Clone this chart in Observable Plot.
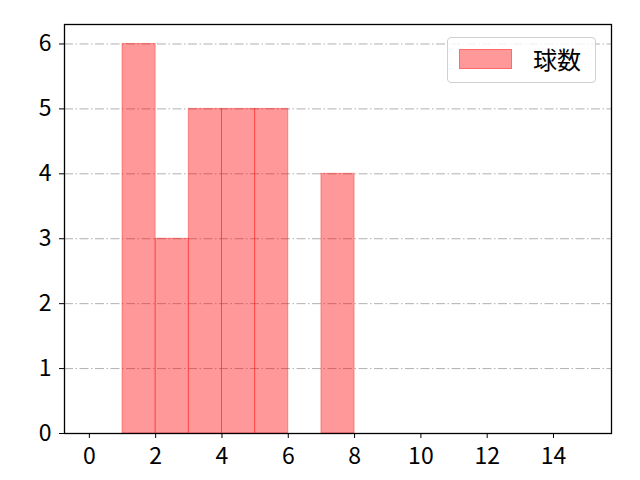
<!DOCTYPE html>
<html><head><meta charset="utf-8">
<script src="https://cdn.jsdelivr.net/npm/d3@7"></script>
<script src="https://cdn.jsdelivr.net/npm/@observablehq/plot@0.6"></script>
<style>
body{margin:0;background:#fff;}
#wrap{position:relative;width:640px;height:480px;font-family:"Noto Sans CJK JP","DejaVu Sans",sans-serif;}
#legend{position:absolute;left:447px;top:37px;width:149px;height:46px;border:1px solid #d0d0d0;border-radius:4px;background:rgba(255,255,255,0.8);box-sizing:border-box;}
#legend .sw{position:absolute;left:11px;top:11px;width:53px;height:20px;background:rgba(255,0,0,0.4);border:1px solid rgba(255,0,0,0.3);box-sizing:border-box;}
#legend .lb{position:absolute;left:85px;top:5px;font-size:24px;line-height:32px;color:#000;}
</style></head>
<body><div id="wrap"><div id="legend"><div class="sw"></div><div class="lb">球数</div></div></div>
<script>
const binStart = [1, 2, 3, 4, 5, 7];
const binEnd = [2, 3, 4, 5, 6, 8];
const counts = [6, 3, 5, 5, 5, 4];
const xTicks = [0, 2, 4, 6, 8, 10, 12, 14];
const yTicks = [0, 1, 2, 3, 4, 5, 6];
const seriesName = "球数";

const data = binStart.map((s, i) => ({x1: s, x2: binEnd[i], y: counts[i]}));

const chart = Plot.plot({
  width: 640, height: 480,
  marginLeft: 64, marginRight: 29, marginTop: 24, marginBottom: 47,
  style: {fontFamily: '"Noto Sans CJK JP","DejaVu Sans",sans-serif', fontSize: "23px", background: "#fff", color: "#000"},
  x: {domain: [-0.75, 15.75], label: null},
  y: {domain: [0, 6.3], label: null},
  marks: [
    Plot.ruleY(yTicks, {stroke: "#b0b0b0", strokeWidth: 1, strokeDasharray: "9,2.5,1.5,2.5"}),
    Plot.rectY(data, {x1: "x1", x2: "x2", y: "y", fill: "red", fillOpacity: 0.4, stroke: "red", strokeOpacity: 0.35, strokeWidth: 1, inset: 0}),
    Plot.axisX({ticks: xTicks, tickSize: 5, tickPadding: 9, fontSize: 23, tickFormat: d3.format("d"), label: null}),
    Plot.axisY({ticks: yTicks, tickSize: 5, tickPadding: 8, fontSize: 23, tickFormat: d3.format("d"), label: null}),
    Plot.frame({stroke: "#000", strokeWidth: 1.3})
  ]
});
document.getElementById("wrap").prepend(chart);
chart.style.position = "absolute"; chart.style.left = "0"; chart.style.top = "0";
</script></body></html>
